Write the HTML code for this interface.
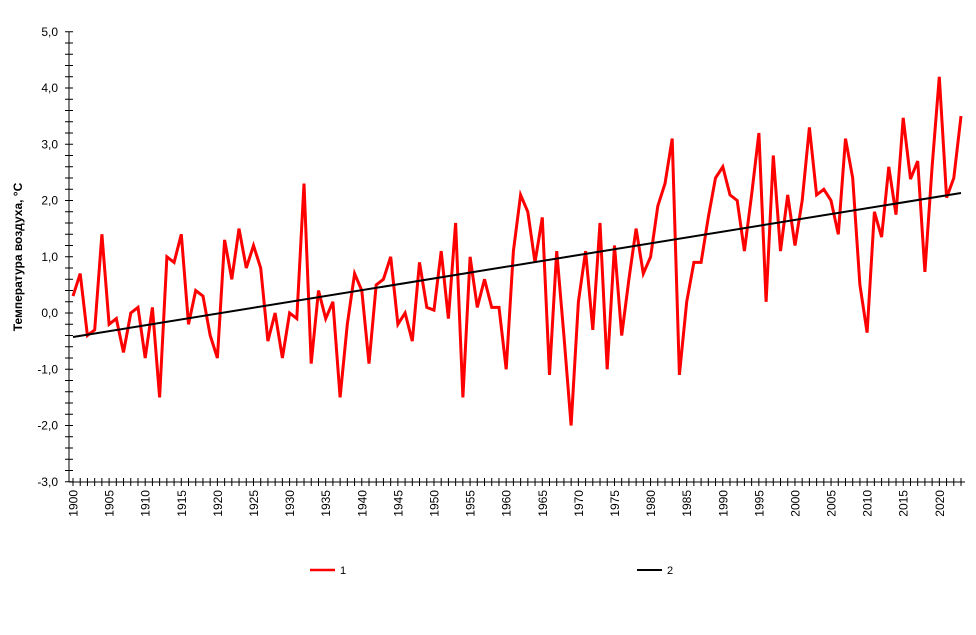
<!DOCTYPE html>
<html><head><meta charset="utf-8"><style>
html,body{margin:0;padding:0;background:#fff;width:976px;height:635px;overflow:hidden}
svg text{font-family:"Liberation Sans",Arial,sans-serif}
</style></head><body>
<svg id="s" width="976" height="635" xmlns="http://www.w3.org/2000/svg">
<text x="22" y="257" transform="rotate(-90 22 257)" text-anchor="middle" font-size="12" font-weight="bold">Температура  воздуха, °C</text>
<line x1="310" y1="570" x2="335" y2="570" stroke="#f00" stroke-width="2.5"/>
<text x="340" y="574" font-size="11">1</text>
<line x1="637" y1="570" x2="662" y2="570" stroke="#000" stroke-width="2"/>
<text x="667" y="574" font-size="11">2</text>
</svg>
<script>
var s=document.getElementById('s'),NS='http://www.w3.org/2000/svg';
function el(t,a,txt){var e=document.createElementNS(NS,t);for(var k in a)e.setAttribute(k,a[k]);if(txt!=null)e.textContent=txt;s.appendChild(e);return e;}
var X0=73,DX=888/123,Y0=313,DY=56.25;
function X(y){return X0+(y-1900)*DX}function Y(v){return Y0-v*DY}
var d=[0.3,0.7,-0.4,-0.3,1.4,-0.2,-0.1,-0.7,0.0,0.1,-0.8,0.1,-1.5,1.0,0.9,1.4,-0.2,0.4,0.3,-0.4,-0.8,1.3,0.6,1.5,0.8,1.2,0.8,-0.5,0.0,-0.8,0.0,-0.1,2.3,-0.9,0.4,-0.1,0.2,-1.5,-0.2,0.7,0.4,-0.9,0.5,0.6,1.0,-0.2,0.0,-0.5,0.9,0.1,0.05,1.1,-0.1,1.6,-1.5,1.0,0.1,0.6,0.1,0.1,-1.0,1.1,2.1,1.8,0.9,1.7,-1.1,1.1,-0.4,-2.0,0.2,1.1,-0.3,1.6,-1.0,1.2,-0.4,0.6,1.5,0.7,1.0,1.9,2.3,3.1,-1.1,0.2,0.9,0.9,1.7,2.4,2.6,2.1,2.0,1.1,2.1,3.2,0.2,2.8,1.1,2.1,1.2,2.0,3.3,2.1,2.2,2.0,1.4,3.1,2.4,0.5,-0.35,1.8,1.35,2.6,1.75,3.47,2.38,2.7,0.73,2.6,4.2,2.05,2.4,3.5];
el('line',{x1:69,y1:32,x2:69,y2:482,stroke:'#000','stroke-width':1});
el('line',{x1:69,y1:482,x2:965,y2:482,stroke:'#000','stroke-width':1});
for(var i=0;i<=40;i++){var v=-3+i*0.2,y=Y(v);el('line',{x1:65,y1:y,x2:73,y2:y,stroke:'#000'});
 if(i%5==0)el('text',{x:58,y:y+4,'text-anchor':'end','font-size':12},v.toFixed(1).replace('.',','));}
for(var yr=1900;yr<=2023;yr++){var x=X(yr);el('line',{x1:x,y1:478,x2:x,y2:486,stroke:'#000'});
 if(yr%5==0){var ty=490;el('text',{x:x+4.5,y:ty,'text-anchor':'end','font-size':12,transform:'rotate(-90 '+(x+4.5)+' '+ty+')'},''+yr);}}
var p=d.map(function(v,i){return X(1900+i).toFixed(1)+','+Y(v).toFixed(1)}).join(' ');
el('polyline',{points:p,fill:'none',stroke:'#f00','stroke-width':3,'stroke-linejoin':'miter'});
el('line',{x1:X(1900),y1:337,x2:X(2023),y2:193,stroke:'#000','stroke-width':2});
</script>
</body></html>
